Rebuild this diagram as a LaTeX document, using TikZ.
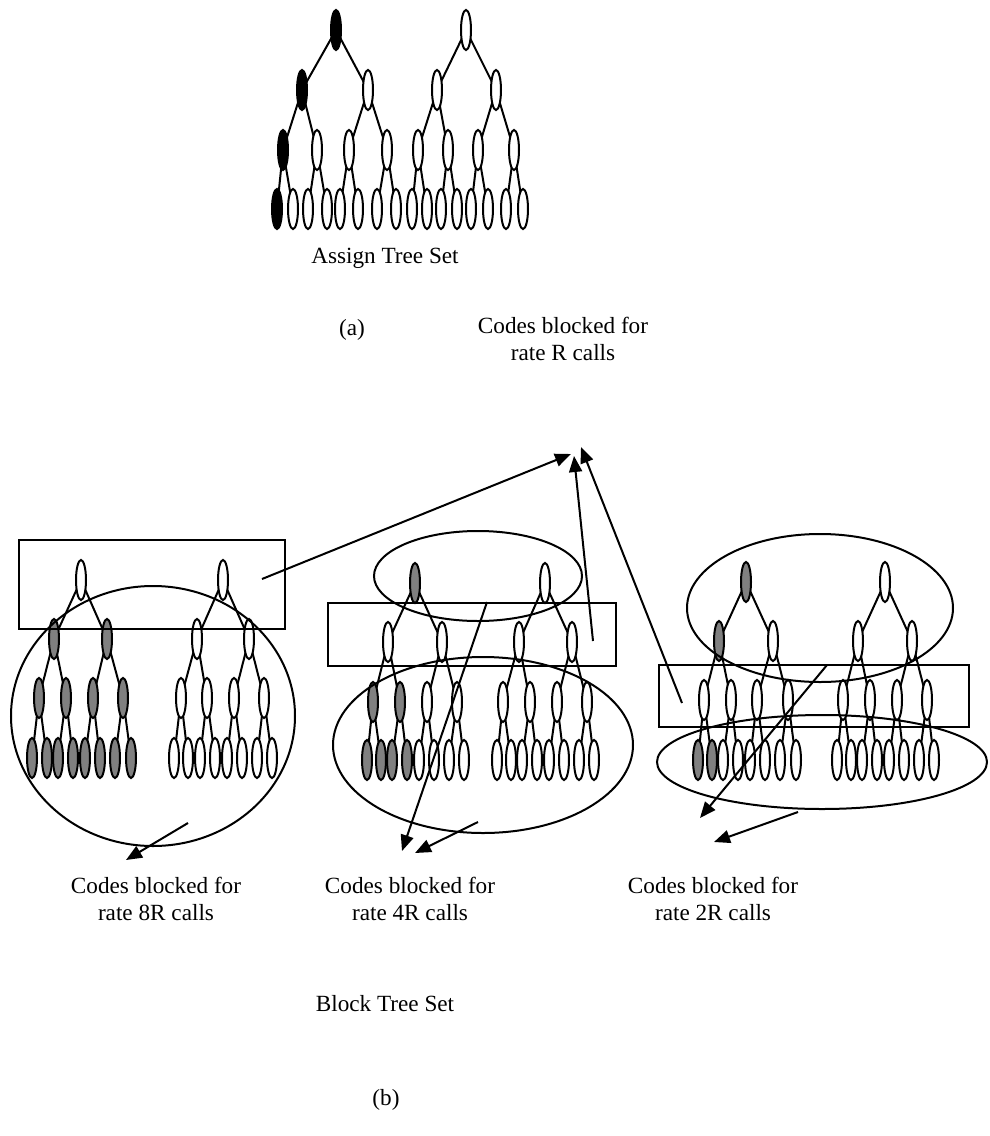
\documentclass[tikz,border=0pt]{standalone}
\usepackage{fontspec}
\setmainfont{Liberation Serif}
\usetikzlibrary{shapes.geometric,arrows.meta,backgrounds}

% One code tree: #1 prefix, #2 root x, #3 level-2 xs, #4 level-3 xs,
% #5 leaf xs, #6..#9 the y of the four levels.
\newcommand\codetree[9]{%
  \node[code,#10/.try] (#10) at (#2,#6) {};
  \foreach \x [count=\i] in {#3}{%
    \edef\tmp{\noexpand\node[code,#11\i/.try] (#11\i) at (\x,#7) {};}\tmp}
  \foreach \x [count=\i] in {#4}{%
    \edef\tmp{\noexpand\node[code,#12\i/.try] (#12\i) at (\x,#8) {};}\tmp}
  \foreach \x [count=\i] in {#5}{%
    \edef\tmp{\noexpand\node[code,#13\i/.try] (#13\i) at (\x,#9) {};}\tmp}
  \begin{scope}[on background layer]
    \draw[edge] (#10.center) -- (#111.center) (#10.center) -- (#112.center);
    \foreach \k/\p in {1/1,2/1,3/2,4/2}
      \draw[edge] (#11\p.center) -- (#12\k.center);
    \foreach \k/\p in {1/1,2/1,3/2,4/2,5/3,6/3,7/4,8/4}
      \draw[edge] (#12\p.center) -- (#13\k.center);
  \end{scope}
}

\begin{document}
\begin{tikzpicture}[x=0.5pt,y=-0.5pt,
  code/.style={ellipse,draw,line width=1pt,fill=white,
    minimum width=5pt,minimum height=20pt,inner sep=0pt},
  edge/.style={line width=1pt},
  used/.style={fill=black},
  blocked/.style={fill=black!50},
  frame/.style={draw,line width=1pt},
  pointer/.style={line width=1pt,-{Triangle[length=8pt,width=6.5pt]}},
  label/.style={align=center,inner sep=0pt,
    font=\fontsize{11.6}{13.5}\selectfont},
  % assigned codes in the assign tree
  aL0/.style={used},aL11/.style={used},aL21/.style={used},aL31/.style={used},
  % codes blocked for rate 8R calls
  bL11/.style={blocked},bL12/.style={blocked},
  bL21/.style={blocked},bL22/.style={blocked},bL23/.style={blocked},bL24/.style={blocked},
  bL31/.style={blocked},bL32/.style={blocked},bL33/.style={blocked},bL34/.style={blocked},
  bL35/.style={blocked},bL36/.style={blocked},bL37/.style={blocked},bL38/.style={blocked},
  % codes blocked for rate 4R calls
  cL0/.style={blocked},cL21/.style={blocked},cL22/.style={blocked},
  cL31/.style={blocked},cL32/.style={blocked},cL33/.style={blocked},cL34/.style={blocked},
  % codes blocked for rate 2R calls
  dL0/.style={blocked},dL11/.style={blocked},dL31/.style={blocked},dL32/.style={blocked}]

\useasboundingbox (0,0) rectangle (990,1136);

% (a) assign tree set
\codetree{aL}{336}{302,368}{283,317,349,387}{277,293,308,327,340,358,377,396}{30}{90}{150}{209}
\codetree{aR}{466}{437,496}{418,448,478,514}{412,427,441,457,471,488,506,523}{30}{90}{150}{209}
\node[label] (assign) at (385,258) {Assign Tree Set};
\node[label] (capa) at (352,330) {(a)};
\node[label] (rateR) at (563,339) {Codes blocked for\\rate R calls};

% (b) block tree set: three copies
\codetree{bL}{81}{54,107}{39,66,93,123}{32,47,58,73,85,100,115,131}{580}{639}{698}{758}
\codetree{bR}{223}{197,249}{181,207,234,264}{174,188,200,215,227,242,257,272}{580}{639}{698}{758}
\codetree{cL}{415}{388,442}{373,400,427,457}{367,381,392,407,419,434,449,464}{583}{642}{702}{760}
\codetree{cR}{545}{519,572}{503,530,557,587}{497,511,522,537,549,564,579,594}{583}{642}{702}{760}
\codetree{dL}{746}{719,773}{704,731,757,788}{698,712,723,738,750,765,780,796}{582}{641}{700}{760}
\codetree{dR}{885}{858,912}{843,870,897,927}{837,851,862,877,889,904,919,934}{582}{641}{700}{760}

% groupings of blocked codes
\draw[frame] (19,540) rectangle (285,629);
\draw[frame] (153,716) ellipse [x radius=142, y radius=130];
\draw[frame] (328,603) rectangle (616,666);
\draw[frame] (478,576) ellipse [x radius=104, y radius=45];
\draw[frame] (483,745) ellipse [x radius=150, y radius=88];
\draw[frame] (659,665) rectangle (969,727);
\draw[frame] (820,608) ellipse [x radius=133, y radius=74];
\draw[frame] (822,762) ellipse [x radius=165, y radius=47];

% arrow ends
\coordinate (r1) at (262,579);  \coordinate (t1) at (571,454);
\coordinate (r2) at (593,641);  \coordinate (t2) at (574,456);
\coordinate (r3) at (682,703);  \coordinate (t3) at (581,447);
\coordinate (e8) at (188,823);  \coordinate (t8) at (126,860);
\coordinate (e4a) at (487,602); \coordinate (t4a) at (402,851);
\coordinate (e4b) at (478,822); \coordinate (t4b) at (415,853);
\coordinate (e2a) at (827,665); \coordinate (t2a) at (700,818);
\coordinate (e2b) at (798,812); \coordinate (t2b) at (714,842);

\draw[pointer] (r1) -- (t1);
\draw[pointer] (r2) -- (t2);
\draw[pointer] (r3) -- (t3);
\draw[pointer] (e8) -- (t8);
\draw[pointer] (e4a) -- (t4a);
\draw[pointer] (e4b) -- (t4b);
\draw[pointer] (e2a) -- (t2a);
\draw[pointer] (e2b) -- (t2b);

\node[label] (rate8R) at (156,899) {Codes blocked for\\rate 8R calls};
\node[label] (rate4R) at (410,899) {Codes blocked for\\rate 4R calls};
\node[label] (rate2R) at (713,899) {Codes blocked for\\rate 2R calls};
\node[label] (block) at (385,1004) {Block Tree Set};
\node[label] (capb) at (386,1100) {(b)};
\end{tikzpicture}
\end{document}
